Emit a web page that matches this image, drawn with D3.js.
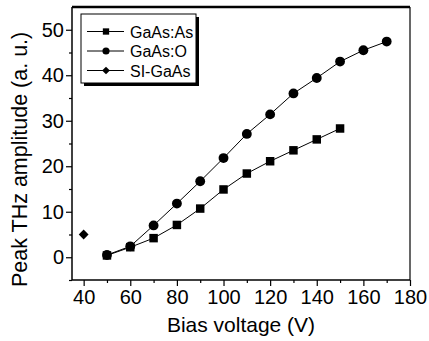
<!DOCTYPE html>
<html>
<head>
<meta charset="utf-8">
<script src="https://cdn.jsdelivr.net/npm/d3@7"></script>
<style>
  body { margin: 0; background: #fff; }
  text { font-family: "Liberation Sans", Arial, sans-serif; fill: #000; }
</style>
</head>
<body>
<div id="chart"></div>
<script>
// data
var voltsAs = [50, 60, 70, 80, 90, 100, 110, 120, 130, 140, 150];
var ampAs = [0.4, 2.2, 4.2, 7.1, 10.7, 14.9, 18.4, 21.1, 23.5, 25.9, 28.3];
var voltsO = [50, 60, 70, 80, 90, 100, 110, 120, 130, 140, 150, 160, 170];
var ampO = [0.5, 2.4, 7.0, 11.8, 16.7, 21.8, 27.1, 31.4, 36.0, 39.4, 43.0, 45.5, 47.4];
var voltsSI = [40];
var ampSI = [5.0];
var seriesNames = ["GaAs:As", "GaAs:O", "SI-GaAs"];
var xTicks = [40, 60, 80, 100, 120, 140, 160, 180];
var yTicks = [0, 10, 20, 30, 40, 50];

var W = 429, H = 341;
var margin = {top: 7, right: 19, bottom: 61, left: 72};
var width = W - margin.left - margin.right,
    height = H - margin.top - margin.bottom;

var svg = d3.select("#chart").append("svg")
    .attr("width", W)
    .attr("height", H)
    .append("g")
    .attr("transform", "translate(" + margin.left + "," + margin.top + ")");

var x = d3.scaleLinear().domain([35, 180]).range([0, width]);
var y = d3.scaleLinear().domain([-5, 55]).range([height, 0]);

// minor ticks first, then major ones with labels
svg.append("g")
    .attr("transform", "translate(0," + height + ")")
    .call(d3.axisBottom(x).tickValues(d3.range(50, 180, 20)).tickSize(3).tickFormat(""))
    .call(g => g.select(".domain").remove());
svg.append("g")
    .call(d3.axisLeft(y).tickValues(d3.range(-5, 55, 10)).tickSize(3).tickFormat(""))
    .call(g => g.select(".domain").remove());

var xAxis = svg.append("g")
    .attr("transform", "translate(0," + height + ")")
    .call(d3.axisBottom(x).tickValues(xTicks).tickSize(6).tickPadding(4));
xAxis.selectAll("text").style("font-size", "20px");

var yAxis = svg.append("g")
    .call(d3.axisLeft(y).tickValues(yTicks).tickSize(6).tickPadding(2));
yAxis.selectAll("text").style("font-size", "20px");

svg.selectAll(".tick line").attr("stroke", "#000").attr("stroke-width", 1.2);
svg.selectAll(".domain").remove();

// frame
svg.append("line").attr("x1", 0).attr("x2", width).attr("y1", 0).attr("y2", 0)
    .attr("stroke", "#000").attr("stroke-width", 2.5);
svg.append("line").attr("x1", 0).attr("x2", width).attr("y1", height).attr("y2", height)
    .attr("stroke", "#000").attr("stroke-width", 1.5);
svg.append("line").attr("x1", 0).attr("x2", 0).attr("y1", 0).attr("y2", height)
    .attr("stroke", "#000").attr("stroke-width", 1.5);
svg.append("line").attr("x1", width).attr("x2", width).attr("y1", 0).attr("y2", height)
    .attr("stroke", "#000").attr("stroke-width", 1.2);

// axis titles
svg.append("text")
    .attr("x", x(107.5))
    .attr("y", height + 52)
    .attr("text-anchor", "middle")
    .style("font-size", "21px")
    .text("Bias voltage (V)");

svg.append("text")
    .attr("transform", "translate(" + (-45) + "," + y(21.5) + ") rotate(-90)")
    .attr("text-anchor", "middle")
    .style("font-size", "21.5px")
    .text("Peak THz amplitude (a. u.)");

// lines
var line = d3.line().x(d => x(d[0])).y(d => y(d[1]));
var dataAs = voltsAs.map((v, i) => [v, ampAs[i]]);
var dataO = voltsO.map((v, i) => [v, ampO[i]]);
var dataSI = voltsSI.map((v, i) => [v, ampSI[i]]);

[dataAs, dataO].forEach(function(d) {
    svg.append("path").datum(d)
        .attr("d", line)
        .attr("fill", "none")
        .attr("stroke", "#000")
        .attr("stroke-width", 1);
});

// square, circle, diamond (square turned 45 degrees)
var sym = [d3.symbolSquare, d3.symbolCircle, d3.symbolSquare];
var symRot = [0, 0, 45];
var symSize = [72, 76, 48];

function drawPoints(data, i) {
    svg.selectAll(".pt" + i).data(data).enter().append("path")
        .attr("class", "pt" + i)
        .attr("transform", d => "translate(" + x(d[0]) + "," + y(d[1]) + ") rotate(" + symRot[i] + ")")
        .attr("d", d3.symbol().type(sym[i]).size(symSize[i]));
}
drawPoints(dataAs, 0);
drawPoints(dataO, 1);
drawPoints(dataSI, 2);

// legend with drop shadow
var lg = svg.append("g").attr("transform", "translate(9,7)");
lg.append("rect").attr("x", 3).attr("y", 3).attr("width", 115).attr("height", 69).attr("fill", "#000");
lg.append("rect").attr("x", 0).attr("y", 0).attr("width", 115).attr("height", 69)
    .attr("fill", "#fff").attr("stroke", "#000").attr("stroke-width", 1);

seriesNames.forEach(function(name, i) {
    var ly = 17.5 + i * 19.5;
    lg.append("line").attr("x1", 6).attr("x2", 43).attr("y1", ly).attr("y2", ly)
        .attr("stroke", "#000").attr("stroke-width", 1);
    lg.append("path")
        .attr("transform", "translate(25," + ly + ") rotate(" + symRot[i] + ")")
        .attr("d", d3.symbol().type(sym[i]).size(i === 2 ? 30 : 40));
    lg.append("text").attr("x", 49).attr("y", ly + 6)
        .style("font-size", "16px")
        .text(name);
});
</script>
</body>
</html>
